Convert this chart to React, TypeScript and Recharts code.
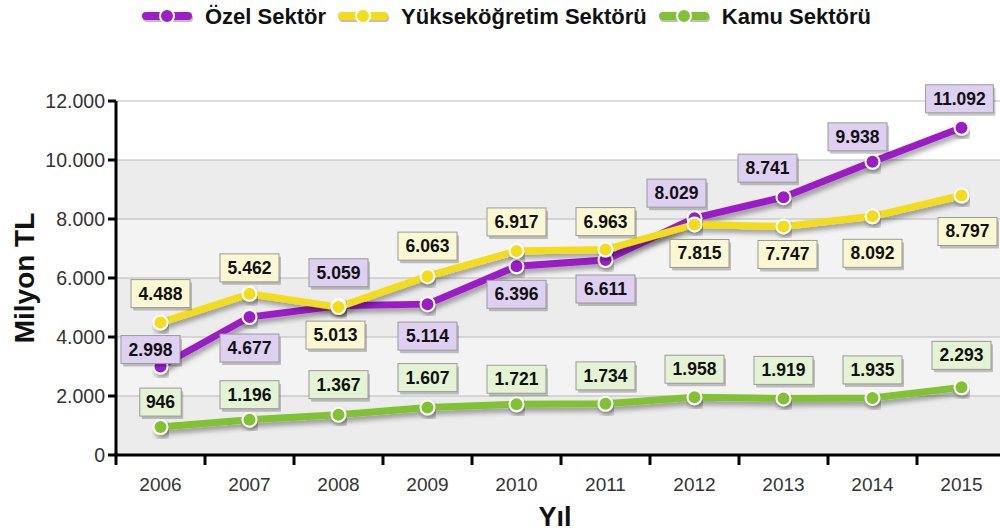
import React from 'react';
import { LineChart, Line, XAxis, YAxis, CartesianGrid, LabelList, Legend } from 'recharts';

const years = ['2006', '2007', '2008', '2009', '2010', '2011', '2012', '2013', '2014', '2015'];
const ozel = [2998, 4677, 5059, 5114, 6396, 6611, 8029, 8741, 9938, 11092];
const yuksek = [4488, 5462, 5013, 6063, 6917, 6963, 7815, 7747, 8092, 8797];
const kamu = [946, 1196, 1367, 1607, 1721, 1734, 1958, 1919, 1935, 2293];
const yTicks = [0, 2000, 4000, 6000, 8000, 10000, 12000];

// label placement (layout only)
const ozelDy = [-17, 31, -33, 32, 28, 29, -25, -29, -25, -29];
const ozelDx = [-10, 0, 0, 0, 0, 0, -18, -16, -15, -2];
const yuksekDy = [-29, -26, 28, -30, -29, -28, 29, 28, 37, 36];
const yuksekDx = [0, 0, -3, 0, 0, 0, 5, 4, 0, 6];
const kamuDy = [-25, -25, -30, -30, -25, -28, -28, -28, -28, -32];
const kamuDx = [0, 0, 0, 0, 0, 0, 0, 0, 0, 0];

const FONT = 'Arial, "Liberation Sans", sans-serif';

const data = years.map((y, i) => ({ x: i + 0.5, year: y, ozel: ozel[i], yuksek: yuksek[i], kamu: kamu[i] }));
const xTicks = Array.from({ length: 21 }, (_, i) => i / 2);

const fmt = (v: number) => String(v).replace(/\B(?=(\d{3})+(?!\d))/g, '.');

const series = [
  { key: 'ozel', name: 'Özel Sektör', color: '#9b1ec6', box: '#ddd0f0' },
  { key: 'yuksek', name: 'Yükseköğretim Sektörü', color: '#f2dc1c', box: '#f9f8d2' },
  { key: 'kamu', name: 'Kamu Sektörü', color: '#80c232', box: '#e5f3d5' },
];

const makeLabel = (fill: string, dys: number[], dxs: number[]) => (props: any) => {
  const { x, y, value, index } = props;
  if (x == null || y == null) return null;
  const t = fmt(Number(value));
  const w = t.length * 8.8 + 15;
  const h = 28;
  const cx = x + (dxs[index] || 0);
  const cy = y + (dys[index] || 0);
  return (
    <g>
      <rect x={cx - w / 2 + 2} y={cy - h / 2 + 3} width={w} height={h} fill="rgba(0,0,0,0.22)" rx={1} />
      <rect x={cx - w / 2} y={cy - h / 2} width={w} height={h} fill={fill} stroke="#9a9a9a" strokeWidth={1} />
      <text x={cx} y={cy + 6} textAnchor="middle" fontSize={17.5} fontWeight="bold" fill="#111" fontFamily={FONT}>
        {t}
      </text>
    </g>
  );
};

const XTick = (props: any) => {
  const { x, y, payload } = props;
  const v = payload.value;
  if (Number.isInteger(v)) {
    return <line x1={x} x2={x} y1={y - 8} y2={y + 2} stroke="#000" strokeWidth={3} />;
  }
  const idx = Math.floor(v);
  return (
    <text x={x} y={y + 28} textAnchor="middle" fontSize={19} fill="#333" fontFamily={FONT}>
      {years[idx]}
    </text>
  );
};

const LegendContent = () => (
  <div style={{ display: 'flex', alignItems: 'center', fontFamily: FONT, fontWeight: 'bold', fontSize: 22, color: '#111' }}>
    {series.map((s) => (
      <div key={s.key} style={{ display: 'flex', alignItems: 'center', marginRight: 12 }}>
        <svg width={52} height={20} style={{ overflow: 'visible' }}>
          <line x1={5} x2={47} y1={11} y2={11} stroke="rgba(0,0,0,0.25)" strokeWidth={8} strokeLinecap="round" />
          <line x1={4} x2={46} y1={9} y2={9} stroke={s.color} strokeWidth={8} strokeLinecap="round" />
          <circle cx={25} cy={9} r={7} fill={s.color} stroke="#fff" strokeWidth={2} />
        </svg>
        <span style={{ marginLeft: 11 }}>{s.name}</span>
      </div>
    ))}
  </div>
);

const XTitle = (props: any) => {
  const { viewBox } = props;
  if (!viewBox) return null;
  const cx = viewBox.x + viewBox.width / 2 - 6;
  return (
    <text x={cx} y={viewBox.y + viewBox.height - 6} textAnchor="middle" fontSize={27} fontWeight="bold" fill="#111" fontFamily={FONT}>
      Yıl
    </text>
  );
};

export default function App() {
  return (
    <div style={{ position: 'absolute', left: 0, top: 0, width: 1000, height: 532, background: '#fff' }}>
      <LineChart width={1000} height={532} data={data} margin={{ top: 65, right: -6, left: 0, bottom: 0 }}>
        <defs>
          <filter id="lineShadow" x="-10%" y="-10%" width="120%" height="140%">
            <feDropShadow dx="2" dy="4" stdDeviation="2.5" floodColor="#000" floodOpacity="0.35" />
          </filter>
        </defs>
        <Legend
          verticalAlign="top"
          align="left"
          height={36}
          wrapperStyle={{ top: 4, left: 142, height: 36 }}
          content={<LegendContent />}
        />
        <CartesianGrid
          vertical={false}
          stroke="#b9b9b9"
          strokeWidth={1.2}
          fill="#f0f0f0"
          horizontalFill={['#ffffff', '#ececec', '#f3f3f3', '#ececec', '#f3f3f3', '#ececec']}
          fillOpacity={1}
        />
        <XAxis
          dataKey="x"
          type="number"
          domain={[0, 10]}
          ticks={xTicks}
          interval={0}
          tickLine={false}
          tickSize={8}
          tickMargin={0}
          tick={<XTick />}
          axisLine={{ stroke: '#000', strokeWidth: 3 }}
          height={77}
          label={<XTitle />}
        />
        <YAxis
          type="number"
          domain={[0, 12000]}
          ticks={yTicks}
          interval={0}
          width={116}
          tickSize={8}
          tickMargin={3}
          tickFormatter={fmt}
          tick={{ fontSize: 19.5, fill: '#333', fontFamily: FONT }}
          tickLine={{ stroke: '#000', strokeWidth: 3 }}
          axisLine={{ stroke: '#000', strokeWidth: 3 }}
          label={{ value: 'Milyon TL', angle: -90, position: 'insideLeft', offset: 24, style: { fontSize: 28, fontWeight: 'bold', fill: '#111', fontFamily: FONT, textAnchor: 'middle' } }}
        />
        <Line
          dataKey="kamu"
          name="Kamu Sektörü"
          stroke={series[2].color}
          strokeWidth={7}
          filter="url(#lineShadow)"
          dot={{ r: 7, fill: series[2].color, stroke: '#fff', strokeWidth: 2 }}
          isAnimationActive={false}
        >
          <LabelList dataKey="kamu" content={makeLabel(series[2].box, kamuDy, kamuDx)} />
        </Line>
        <Line
          dataKey="ozel"
          name="Özel Sektör"
          stroke={series[0].color}
          strokeWidth={7}
          filter="url(#lineShadow)"
          dot={{ r: 7, fill: series[0].color, stroke: '#fff', strokeWidth: 2 }}
          isAnimationActive={false}
        >
          <LabelList dataKey="ozel" content={makeLabel(series[0].box, ozelDy, ozelDx)} />
        </Line>
        <Line
          dataKey="yuksek"
          name="Yükseköğretim Sektörü"
          stroke={series[1].color}
          strokeWidth={7}
          filter="url(#lineShadow)"
          dot={{ r: 7, fill: series[1].color, stroke: '#fff', strokeWidth: 2 }}
          isAnimationActive={false}
        >
          <LabelList dataKey="yuksek" content={makeLabel(series[1].box, yuksekDy, yuksekDx)} />
        </Line>
      </LineChart>
    </div>
  );
}
